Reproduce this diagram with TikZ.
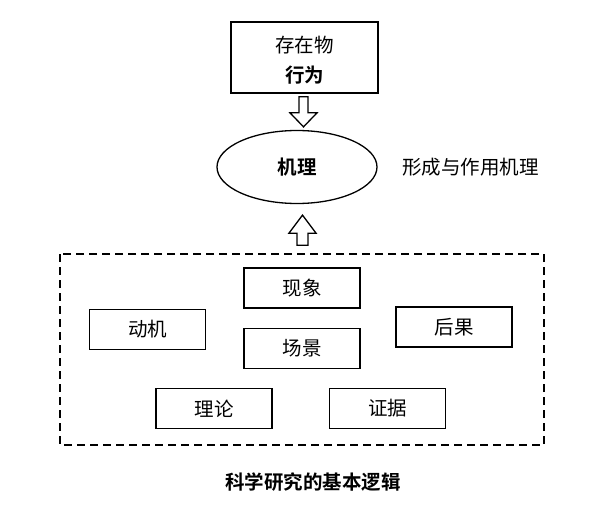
\documentclass[tikz,border=0pt]{standalone}
\usepackage{fontspec}
\newfontfamily\cjk{Noto Sans CJK SC}
\newfontfamily\cjkb{Noto Sans CJK SC Bold}
\usetikzlibrary{shapes.geometric,calc}
\begin{document}
\begin{tikzpicture}[x=1pt,y=-1pt,
  box/.style={draw,line width=1.8pt,minimum width=116pt,minimum height=40pt,inner sep=0pt,font=\cjk\fontsize{19.5}{21}\selectfont},
  hollow/.style={draw,line width=1.3pt,fill=white,line join=miter},
  lbl/.style={inner sep=0pt,font=\cjk\fontsize{19.5}{21}\selectfont}]
\useasboundingbox (0,0) rectangle (604,513);
% top box
\node[box,minimum width=147pt,minimum height=71pt] (top) at (304.5,57.5) {};
\node[lbl] (t1) at (304.5,45) {存在物};
\node[lbl,font=\cjkb\fontsize{19.5}{21}\selectfont] (t2) at (304.5,75) {行为};
% ellipse
\node[draw,ellipse,line width=1.3pt,minimum width=160pt,minimum height=73pt,inner sep=0pt,font=\cjkb\fontsize{19.5}{21}\selectfont] (mech) at (297,167) {机理};
\node[lbl,anchor=west] (side) at (402,167) {形成与作用机理};
% dashed box
\draw[line width=1.8pt,dash pattern=on 8pt off 5pt] (60,254) rectangle (544,445);
% boxes
\node[box] (xx) at (302,288) {现象};
\node[box] (dj) at (147.5,329.5) {动机};
\node[box] (cj) at (302,348.5) {场景};
\node[box] (hg) at (454,327) {后果};
\node[box] (ll) at (214,408.5) {理论};
\node[box] (zj) at (387.5,408.5) {证据};
% hollow arrows
\coordinate (dtip) at ($(mech.north)+(6.5,-3)$);
\coordinate (utip) at ($(mech.south)+(5.5,11)$);
\draw[hollow] (dtip) -- ++(-13.5,-14) -- ++(9,0) -- ++(0,-16) -- ++(9,0) -- ++(0,16) -- ++(9,0) -- cycle;
\draw[hollow] (utip) -- ++(-13.5,18) -- ++(8,0) -- ++(0,12) -- ++(11,0) -- ++(0,-12) -- ++(8,0) -- cycle;
% caption
\node[lbl,font=\cjkb\fontsize{19.5}{21}\selectfont] (cap) at (313,482) {科学研究的基本逻辑};
\end{tikzpicture}
\end{document}
